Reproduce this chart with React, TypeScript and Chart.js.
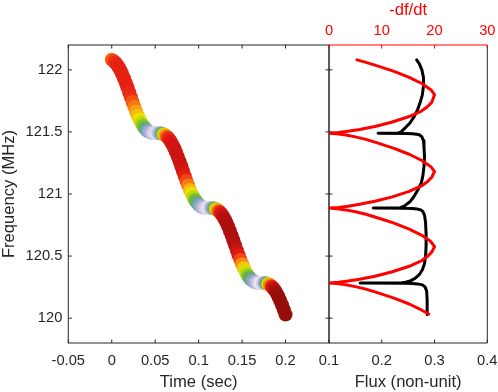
import React, { useEffect, useRef } from 'react';
import { Chart, registerables } from 'chart.js';

Chart.register(...registerables);

// ---------- data ----------
const timeSec = [
  0, 0.002, 0.004, 0.006, 0.008, 0.01, 0.012, 0.014, 0.016, 0.018,
  0.02, 0.022, 0.024, 0.026, 0.028, 0.03, 0.032, 0.034, 0.036, 0.038,
  0.04, 0.042, 0.044, 0.046, 0.048, 0.05, 0.052, 0.054, 0.056, 0.058,
  0.06, 0.062, 0.064, 0.066, 0.068, 0.07, 0.072, 0.074, 0.076, 0.078,
  0.08, 0.082, 0.084, 0.086, 0.088, 0.09, 0.092, 0.094, 0.096, 0.098,
  0.1, 0.102, 0.104, 0.106, 0.108, 0.11, 0.112, 0.114, 0.116, 0.118,
  0.12, 0.122, 0.124, 0.126, 0.128, 0.13, 0.132, 0.134, 0.136, 0.138,
  0.14, 0.142, 0.144, 0.146, 0.148, 0.15, 0.152, 0.154, 0.156, 0.158,
  0.16, 0.162, 0.164, 0.166, 0.168, 0.17, 0.172, 0.174, 0.176, 0.178,
  0.18, 0.182, 0.184, 0.186, 0.188, 0.19, 0.192, 0.194, 0.196, 0.198,
  0.2,
];

const freqMHz = [
  122.082, 122.072, 122.059, 122.042, 122.021, 121.995, 121.966, 121.933, 121.898, 121.86,
  121.82, 121.78, 121.741, 121.702, 121.665, 121.631, 121.6, 121.573, 121.55, 121.531,
  121.516, 121.505, 121.498, 121.493, 121.491, 121.49, 121.49, 121.49, 121.489, 121.485,
  121.48, 121.471, 121.458, 121.442, 121.421, 121.396, 121.368, 121.335, 121.3, 121.263,
  121.223, 121.183, 121.144, 121.105, 121.068, 121.033, 121.002, 120.974, 120.95, 120.931,
  120.915, 120.903, 120.895, 120.89, 120.888, 120.887, 120.887, 120.887, 120.886, 120.883,
  120.878, 120.869, 120.857, 120.841, 120.821, 120.797, 120.769, 120.737, 120.702, 120.665,
  120.626, 120.586, 120.546, 120.507, 120.47, 120.435, 120.403, 120.375, 120.35, 120.33,
  120.314, 120.302, 120.293, 120.288, 120.285, 120.284, 120.284, 120.284, 120.283, 120.28,
  120.275, 120.267, 120.256, 120.241, 120.221, 120.198, 120.17, 120.139, 120.105, 120.068,
  120.029,
];

// colour level of each scatter point (0 = pale lavender ... 1 = dark red)
const colorLevel = [
  0.68, 0.72, 0.75, 0.77, 0.78, 0.78, 0.78, 0.78, 0.78, 0.78,
  0.77, 0.75, 0.7, 0.66, 0.62, 0.58, 0.53, 0.48, 0.43, 0.37,
  0.31, 0.25, 0.19, 0.13, 0.08, 0.04, 0.03, 0.1, 0.22, 0.36,
  0.5, 0.62, 0.72, 0.78, 0.81, 0.83, 0.84, 0.85, 0.85, 0.85,
  0.85, 0.83, 0.79, 0.72, 0.66, 0.59, 0.53, 0.47, 0.41, 0.35,
  0.29, 0.23, 0.17, 0.11, 0.07, 0.03, 0.02, 0.09, 0.21, 0.35,
  0.5, 0.63, 0.74, 0.82, 0.87, 0.9, 0.92, 0.93, 0.93, 0.93,
  0.92, 0.9, 0.86, 0.8, 0.72, 0.64, 0.57, 0.51, 0.45, 0.39,
  0.33, 0.27, 0.21, 0.15, 0.09, 0.04, 0.0, 0.06, 0.18, 0.34,
  0.5, 0.64, 0.76, 0.86, 0.93, 0.97, 1.0, 1.0, 1.0, 1.0,
  1.0,
];

// -df/dt curve (red, top axis)
const rateFreq = [
  122.08, 122.06, 122.03, 121.99, 121.94, 121.89, 121.84, 121.8,
  121.74, 121.704, 121.67, 121.624, 121.58, 121.544, 121.52, 121.505, 121.495, 121.49,
  121.485, 121.475, 121.46, 121.44, 121.41, 121.37, 121.32, 121.27, 121.22, 121.18,
  121.137, 121.101, 121.067, 121.021, 120.977, 120.941, 120.917, 120.902, 120.892, 120.887,
  120.882, 120.872, 120.857, 120.837, 120.807, 120.767, 120.717, 120.667, 120.617, 120.577,
  120.534, 120.498, 120.464, 120.418, 120.374, 120.338, 120.314, 120.299, 120.289, 120.284,
  120.279, 120.269, 120.254, 120.234, 120.204, 120.164, 120.114, 120.064, 120.034,
];
const rateValue = [
  5.3, 7.0, 9.3, 12.2, 15.2, 17.6, 19.3, 20.0,
  19.5, 18.7, 17.6, 15.2, 12.0, 8.7, 5.8, 3.6, 1.8, 0,
  1.5, 3.2, 5.0, 7.0, 9.3, 12.2, 15.2, 17.6, 19.3, 20.0,
  19.5, 18.7, 17.6, 15.2, 12.0, 8.7, 5.8, 3.6, 1.8, 0,
  1.5, 3.2, 5.0, 7.0, 9.3, 12.2, 15.2, 17.6, 19.3, 20.0,
  19.5, 18.7, 17.6, 15.2, 12.0, 8.7, 5.8, 3.6, 1.8, 0,
  1.5, 3.2, 5.0, 7.0, 9.3, 12.2, 15.2, 17.6, 18.9,
];

// flux curve (black, bottom axis)
const fluxFreq = [
  122.08, 122.05, 122.0, 121.94, 121.87, 121.8, 121.74, 121.68, 121.62, 121.57,
  121.535, 121.51, 121.497, 121.492, 121.49, 121.488, 121.486, 121.482, 121.475, 121.46,
  121.43, 121.38, 121.3, 121.22, 121.15, 121.09, 121.03, 120.98, 120.94, 120.91,
  120.895, 120.889, 120.887, 120.885, 120.883, 120.879, 120.872, 120.858, 120.83, 120.77,
  120.68, 120.58, 120.5, 120.44, 120.39, 120.35, 120.32, 120.3, 120.29, 120.286,
  120.284, 120.282, 120.28, 120.276, 120.268, 120.252, 120.22, 120.15, 120.03,
];
const fluxValue = [
  0.266, 0.271, 0.276, 0.279, 0.279, 0.277, 0.273, 0.268, 0.261, 0.253,
  0.245, 0.239, 0.236, 0.231, 0.193, 0.245, 0.258, 0.266, 0.272, 0.276,
  0.279, 0.28, 0.281, 0.28, 0.278, 0.275, 0.268, 0.261, 0.254, 0.245,
  0.239, 0.235, 0.184, 0.245, 0.258, 0.267, 0.274, 0.278, 0.281, 0.283,
  0.284, 0.284, 0.283, 0.281, 0.277, 0.271, 0.263, 0.254, 0.245, 0.238,
  0.159, 0.245, 0.258, 0.268, 0.277, 0.282, 0.285, 0.286, 0.286,
];

const timeTicks = [-0.05, 0, 0.05, 0.1, 0.15, 0.2];
const freqTicks = [120, 120.5, 121, 121.5, 122];
const fluxTicks = [0.1, 0.2, 0.3, 0.4];
const rateTicks = [0, 10, 20, 30];

// ---------- styling ----------
const W = 498;
const H = 392;
const AXIS = '#262626';
const RED = '#ff0000';
const FONT = "'Liberation Sans', Arial, Helvetica, sans-serif";
const TICK_LEN = 3.5;
const AREA = { top: 45, bottom: 343, left: 68.3, mid: 329, right: 487.3 };

const colorStops: [number, number[]][] = [
  [0.0, [236, 232, 244]],
  [0.08, [207, 198, 230]],
  [0.16, [170, 176, 212]],
  [0.24, [138, 166, 192]],
  [0.32, [95, 166, 138]],
  [0.4, [108, 187, 44]],
  [0.47, [184, 216, 18]],
  [0.53, [238, 224, 0]],
  [0.6, [249, 176, 16]],
  [0.67, [247, 112, 20]],
  [0.74, [238, 52, 20]],
  [0.8, [224, 24, 18]],
  [0.86, [200, 20, 18]],
  [0.92, [176, 16, 16]],
  [1.0, [150, 14, 10]],
];

function levelToColor(v: number): string {
  if (v <= colorStops[0][0]) return `rgb(${colorStops[0][1].join(',')})`;
  for (let i = 1; i < colorStops.length; i++) {
    const [b, cb] = colorStops[i];
    const [a, ca] = colorStops[i - 1];
    if (v <= b) {
      const t = (v - a) / (b - a);
      const c = ca.map((x, k) => Math.round(x + (cb[k] - x) * t));
      return `rgb(${c.join(',')})`;
    }
  }
  return `rgb(${colorStops[colorStops.length - 1][1].join(',')})`;
}

const fmt = (v: number) => String(Math.round(v * 1000) / 1000);

const tickFont = { family: FONT, size: 14.7 };
const titleFont = { family: FONT, size: 16.6 };

const leftFrame = {
  id: 'leftFrame',
  beforeDatasetsDraw(chart: any) {
    const { ctx, chartArea: a, scales } = chart;
    ctx.save();
    ctx.strokeStyle = AXIS;
    ctx.lineWidth = 1;
    ctx.strokeRect(a.left, a.top, a.right - a.left, a.bottom - a.top);
    ctx.beginPath();
    for (const v of freqTicks) {
      const p = scales.y.getPixelForValue(v);
      ctx.moveTo(a.left, p);
      ctx.lineTo(a.left + TICK_LEN, p);
      ctx.moveTo(a.right, p);
      ctx.lineTo(a.right - TICK_LEN, p);
    }
    for (const v of timeTicks) {
      const p = scales.x.getPixelForValue(v);
      ctx.moveTo(p, a.bottom);
      ctx.lineTo(p, a.bottom - TICK_LEN);
      ctx.moveTo(p, a.top);
      ctx.lineTo(p, a.top + TICK_LEN);
    }
    ctx.stroke();
    ctx.restore();
  },
};

const rightFrame = {
  id: 'rightFrame',
  beforeDatasetsDraw(chart: any) {
    const { ctx, chartArea: a, scales } = chart;
    ctx.save();
    ctx.lineWidth = 1;
    ctx.strokeStyle = AXIS;
    ctx.beginPath();
    ctx.moveTo(a.left, a.top);
    ctx.lineTo(a.left, a.bottom);
    ctx.lineTo(a.right, a.bottom);
    ctx.lineTo(a.right, a.top);
    for (const v of freqTicks) {
      const p = scales.y.getPixelForValue(v);
      ctx.moveTo(a.left, p);
      ctx.lineTo(a.left + TICK_LEN, p);
    }
    for (const v of fluxTicks) {
      const p = scales.x.getPixelForValue(v);
      ctx.moveTo(p, a.bottom);
      ctx.lineTo(p, a.bottom - TICK_LEN);
    }
    ctx.stroke();
    ctx.strokeStyle = RED;
    ctx.beginPath();
    ctx.moveTo(a.left, a.top);
    ctx.lineTo(a.right, a.top);
    for (const v of rateTicks) {
      const p = scales.x2.getPixelForValue(v);
      ctx.moveTo(p, a.top);
      ctx.lineTo(p, a.top + TICK_LEN);
    }
    ctx.stroke();
    ctx.restore();
  },
};

function fixedTicks(values: number[]) {
  return (scale: any) => {
    scale.ticks = values.map((v) => ({ value: v }));
  };
}

export default function App() {
  const leftRef = useRef<HTMLCanvasElement | null>(null);
  const rightRef = useRef<HTMLCanvasElement | null>(null);

  useEffect(() => {
    if (!leftRef.current || !rightRef.current) return;

    const scatterData = timeSec.map((t, i) => ({ x: t, y: freqMHz[i] }));
    const pointColors = colorLevel.map(levelToColor);

    const left = new Chart(leftRef.current, {
      type: 'scatter',
      data: {
        datasets: [
          {
            data: scatterData,
            pointRadius: 7,
            pointHoverRadius: 7,
            pointBackgroundColor: pointColors,
            pointBorderColor: pointColors,
            pointBorderWidth: 0,
            showLine: false,
          },
        ],
      },
      options: {
        animation: false,
        responsive: false,
        events: [],
        layout: { padding: { left: 0, right: W - AREA.mid, top: AREA.top, bottom: 0 } },
        plugins: { legend: { display: false }, tooltip: { enabled: false } },
        scales: {
          x: {
            type: 'linear',
            min: -0.05,
            max: 0.25,
            afterBuildTicks: fixedTicks(timeTicks),
            afterFit: (s: any) => {
              s.height = H - AREA.bottom;
              s.paddingLeft = 0;
              s.paddingRight = 0;
            },
            grid: { display: false, drawTicks: false },
            border: { display: false },
            ticks: {
              autoSkip: false,
              maxRotation: 0,
              minRotation: 0,
              padding: 9.5,
              color: AXIS,
              font: tickFont,
              callback: (v: any) => fmt(Number(v)),
            },
            title: {
              display: true,
              text: 'Time (sec)',
              color: AXIS,
              font: titleFont,
              padding: { top: 0, bottom: 0 },
            },
          },
          y: {
            type: 'linear',
            min: 119.8,
            max: 122.2,
            afterBuildTicks: fixedTicks(freqTicks),
            afterFit: (s: any) => {
              s.width = AREA.left;
              s.paddingTop = 0;
              s.paddingBottom = 0;
            },
            grid: { display: false, drawTicks: false },
            border: { display: false },
            ticks: {
              autoSkip: false,
              padding: 6,
              color: AXIS,
              font: tickFont,
              callback: (v: any) => fmt(Number(v)),
            },
            title: {
              display: true,
              text: 'Frequency (MHz)',
              color: AXIS,
              font: titleFont,
              padding: { top: -1, bottom: 0 },
            },
          },
        },
      } as any,
      plugins: [leftFrame],
    });

    const right = new Chart(rightRef.current, {
      type: 'scatter',
      data: {
        datasets: [
          {
            data: rateFreq.map((f, i) => ({ x: rateValue[i], y: f })),
            xAxisID: 'x2',
            yAxisID: 'y',
            showLine: true,
            borderColor: RED,
            backgroundColor: RED,
            borderWidth: 3,
            pointRadius: 0,
            pointHoverRadius: 0,
            tension: 0,
            borderJoinStyle: 'round',
            borderCapStyle: 'round',
          },
          {
            data: fluxFreq.map((f, i) => ({ x: fluxValue[i], y: f })),
            xAxisID: 'x',
            yAxisID: 'y',
            showLine: true,
            borderColor: '#000000',
            backgroundColor: '#000000',
            borderWidth: 3,
            pointRadius: 0,
            pointHoverRadius: 0,
            tension: 0,
            borderJoinStyle: 'round',
            borderCapStyle: 'round',
          },
        ],
      },
      options: {
        animation: false,
        responsive: false,
        events: [],
        layout: { padding: { left: AREA.mid, right: W - AREA.right, top: 0, bottom: 0 } },
        plugins: { legend: { display: false }, tooltip: { enabled: false } },
        scales: {
          x: {
            type: 'linear',
            position: 'bottom',
            min: 0.1,
            max: 0.4,
            afterBuildTicks: fixedTicks(fluxTicks),
            afterFit: (s: any) => {
              s.height = H - AREA.bottom;
              s.paddingLeft = 0;
              s.paddingRight = 0;
            },
            grid: { display: false, drawTicks: false },
            border: { display: false },
            ticks: {
              autoSkip: false,
              maxRotation: 0,
              minRotation: 0,
              padding: 9.5,
              color: AXIS,
              font: tickFont,
              callback: (v: any) => fmt(Number(v)),
            },
            title: {
              display: true,
              text: 'Flux (non-unit)',
              color: AXIS,
              font: titleFont,
              padding: { top: 0, bottom: 0 },
            },
          },
          x2: {
            type: 'linear',
            position: 'top',
            min: 0,
            max: 30,
            afterBuildTicks: fixedTicks(rateTicks),
            afterFit: (s: any) => {
              s.height = AREA.top;
              s.paddingLeft = 0;
              s.paddingRight = 0;
            },
            grid: { display: false, drawTicks: false },
            border: { display: false },
            ticks: {
              autoSkip: false,
              maxRotation: 0,
              minRotation: 0,
              padding: 5.7,
              color: RED,
              font: tickFont,
              callback: (v: any) => fmt(Number(v)),
            },
            title: {
              display: true,
              text: '-df/dt',
              color: RED,
              font: titleFont,
              padding: { top: 0, bottom: 0 },
            },
          },
          y: {
            type: 'linear',
            display: false,
            min: 119.8,
            max: 122.2,
          },
        },
      } as any,
      plugins: [rightFrame],
    });

    return () => {
      left.destroy();
      right.destroy();
    };
  }, []);

  const canvasStyle: React.CSSProperties = {
    position: 'absolute',
    left: 0,
    top: 0,
    width: W,
    height: H,
  };

  return (
    <div style={{ position: 'fixed', left: 0, top: 0, width: W, height: H, background: '#ffffff' }}>
      <canvas ref={leftRef} width={W} height={H} style={canvasStyle} />
      <canvas ref={rightRef} width={W} height={H} style={canvasStyle} />
    </div>
  );
}
